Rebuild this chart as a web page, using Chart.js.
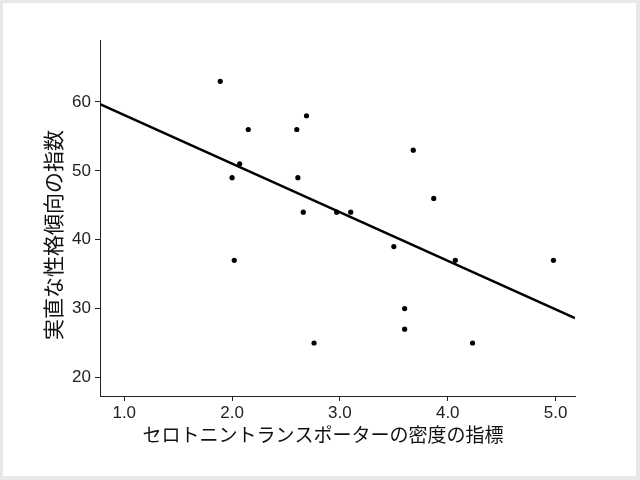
<!DOCTYPE html>
<html>
<head>
<meta charset="utf-8">
<script src="https://cdn.jsdelivr.net/npm/chart.js@4/dist/chart.umd.min.js"></script>
<style>
  html, body { margin: 0; padding: 0; background: #fff; }
  #wrap { position: relative; width: 640px; height: 480px; }
  canvas { position: absolute; left: 0; top: 0; }
</style>
</head>
<body>
<div id="wrap"><canvas id="chart" width="640" height="480"></canvas></div>
<script>
// Data
const densityX = [1.89, 2.15, 2.07, 2.00, 2.02, 2.60, 2.69, 2.61, 2.66, 2.76,
                  2.97, 3.10, 3.50, 3.68, 3.60, 3.60, 3.87, 4.07, 4.23, 4.98];
const honestyY = [63, 56, 51, 49, 37, 56, 58, 49, 44, 25,
                  44, 44, 39, 53, 30, 27, 46, 37, 25, 37];

// fitted line, end points as they sit at the plot edges
const fitX = [0.775, 5.18];
const fitY = [59.7, 28.6];

const xTitle = 'セロトニントランスポーターの密度の指標';
const yTitle = '実直な性格傾向の指数';

const points = densityX.map((x, i) => ({ x: x, y: honestyY[i] }));
const fitLine = fitX.map((x, i) => ({ x: x, y: fitY[i] }));

// light grey frame round the picture
const framePlugin = {
    id: 'frame',
    beforeDraw(chart) {
        const c = chart.ctx;
        c.save();
        c.fillStyle = '#fff';
        c.fillRect(0, 0, chart.width, chart.height);
        c.fillStyle = '#e8e8e8';
        c.fillRect(0, 0, chart.width, 3);
        c.fillRect(0, 0, 3, chart.height);
        c.fillRect(chart.width - 4, 0, 4, chart.height);
        c.fillRect(0, chart.height - 4, chart.width, 4);
        c.restore();
    }
};

// axis titles sit a little off the axis centres in the original, so draw them here
const titlePlugin = {
    id: 'axisTitles',
    afterDraw(chart) {
        const c = chart.ctx;
        c.save();
        c.fillStyle = '#111';
        c.textAlign = 'center';
        c.textBaseline = 'middle';
        c.font = '19px "Noto Sans CJK JP", sans-serif';
        c.fillText(xTitle, 323, 435);
        c.translate(53, 235);
        c.rotate(-Math.PI / 2);
        c.font = '21px "Noto Sans CJK JP", sans-serif';
        c.fillText(yTitle, 0, 0);
        c.restore();
    }
};

const tickFont = { family: '"Liberation Sans", Arial, sans-serif', size: 17 };

new Chart(document.getElementById('chart'), {
    type: 'scatter',
    data: {
        datasets: [
            {
                type: 'line',
                data: fitLine,
                borderColor: '#000',
                borderWidth: 2.5,
                pointRadius: 0,
                fill: false
            },
            {
                data: points,
                backgroundColor: '#000',
                borderWidth: 0,
                pointRadius: 2.6
            }
        ]
    },
    options: {
        responsive: false,
        animation: false,
        layout: { padding: { top: 40, right: 65, left: 0, bottom: 0 } },
        plugins: {
            legend: { display: false },
            tooltip: { enabled: false }
        },
        scales: {
            x: {
                type: 'linear',
                min: 0.775,
                max: 5.18,
                border: { display: true, color: '#222', width: 1 },
                grid: { drawOnChartArea: false, drawTicks: true, tickLength: 5, tickColor: '#222' },
                ticks: {
                    stepSize: 1,
                    includeBounds: false,
                    color: '#222',
                    font: tickFont,
                    padding: 2,
                    maxRotation: 0,
                    callback: v => v.toFixed(1)
                },
                afterFit: s => { s.height = 84; }
            },
            y: {
                type: 'linear',
                min: 17.3,
                max: 69,
                border: { display: true, color: '#222', width: 1 },
                grid: { drawOnChartArea: false, drawTicks: true, tickLength: 5, tickColor: '#222' },
                ticks: {
                    stepSize: 10,
                    includeBounds: false,
                    color: '#222',
                    font: tickFont,
                    padding: 4
                },
                afterFit: s => { s.width = 100; }
            }
        }
    },
    plugins: [framePlugin, titlePlugin]
});
</script>
</body>
</html>
